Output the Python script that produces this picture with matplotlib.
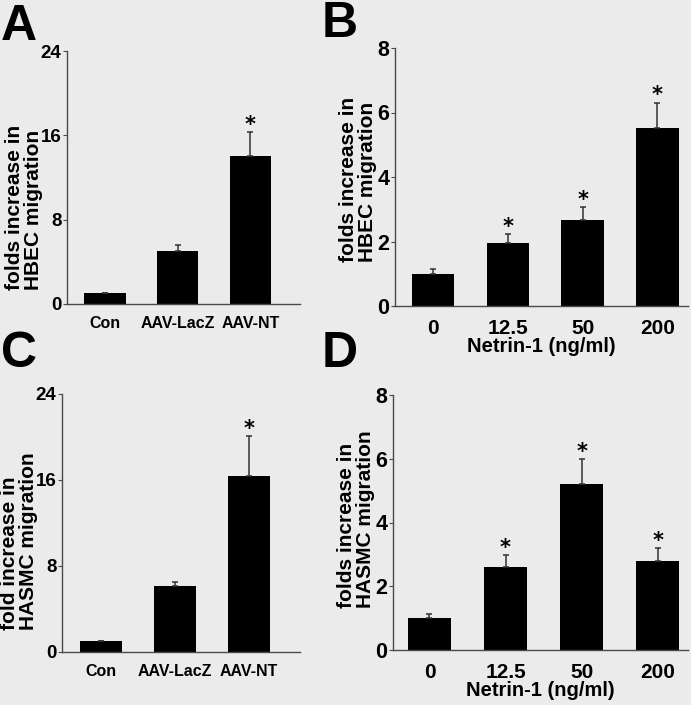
import matplotlib
matplotlib.use("Agg")
import matplotlib.pyplot as plt

W, H = 691, 705
BG = "#ebebeb"

# data
vec_groups = ["Con", "AAV-LacZ", "AAV-NT"]
netrin_doses = ["0", "12.5", "50", "200"]

hbec_vec = [1.0, 5.0, 14.0]
hbec_vec_err = [0.0, 0.55, 2.3]
hbec_vec_star = [False, False, True]

hbec_dose = [1.0, 1.94, 2.66, 5.52]
hbec_dose_err = [0.15, 0.30, 0.40, 0.79]
hbec_dose_star = [False, True, True, True]

hasmc_vec = [1.0, 6.1, 16.4]
hasmc_vec_err = [0.0, 0.4, 3.7]
hasmc_vec_star = [False, False, True]

hasmc_dose = [1.0, 2.6, 5.2, 2.8]
hasmc_dose_err = [0.13, 0.38, 0.80, 0.40]
hasmc_dose_star = [False, True, True, True]

SANS = ["Liberation Sans", "DejaVu Sans"]


def px_axes(fig, l, r, t, b):
    return fig.add_axes([l / W, 1 - b / H, (r - l) / W, (b - t) / H])


def panel(ax, cats, vals, errs, stars, ymax, yticks, xlim, xfs, yfs):
    x = list(range(len(cats)))
    ax.set_facecolor(BG)
    ax.bar(x, vals, width=0.57, color="black", zorder=2)
    ax.errorbar(x, vals, yerr=[[0] * len(vals), errs], fmt="none",
                ecolor="#333333", elinewidth=1.1, capsize=2.2, capthick=1.1, zorder=3)
    for xi, v, e, s in zip(x, vals, errs, stars):
        if s:
            ax.annotate("*", (xi, v + e), xytext=(0, -2), textcoords="offset points",
                        ha="center", va="bottom", fontsize=15, fontweight="bold")
    ax.set_ylim(0, ymax)
    ax.set_xlim(*xlim)
    ax.set_yticks(yticks)
    ax.set_xticks(x)
    ax.set_xticklabels(cats)
    for sp in ["top", "right"]:
        ax.spines[sp].set_visible(False)
    for sp in ["left", "bottom"]:
        ax.spines[sp].set_color("#4a4a4a")
        ax.spines[sp].set_linewidth(1.0)
    ax.tick_params(axis="x", length=0, pad=9)
    ax.tick_params(axis="y", length=3, width=0.8, color="#4a4a4a", pad=1)
    for lab in ax.get_xticklabels():
        lab.set_family(SANS); lab.set_fontweight("bold"); lab.set_fontsize(xfs)
    for lab in ax.get_yticklabels():
        lab.set_family(SANS); lab.set_fontweight("bold"); lab.set_fontsize(yfs)


fig = plt.figure(figsize=(W / 100, H / 100), dpi=100, facecolor=BG)

axA = px_axes(fig, 67, 300, 51, 304)
panel(axA, vec_groups, hbec_vec, hbec_vec_err, hbec_vec_star, 24, [0, 8, 16, 24],
      (-0.52, 2.68), 11.5, 13.5)

axB = px_axes(fig, 395, 688, 48, 306)
panel(axB, netrin_doses, hbec_dose, hbec_dose_err, hbec_dose_star, 8, [0, 2, 4, 6, 8],
      (-0.51, 3.41), 15, 15.5)
axB.set_xlabel("Netrin-1 (ng/ml)", family=SANS, fontweight="bold", fontsize=14.5, labelpad=0)

axC = px_axes(fig, 62, 300, 394, 652)
panel(axC, vec_groups, hasmc_vec, hasmc_vec_err, hasmc_vec_star, 24, [0, 8, 16, 24],
      (-0.53, 2.69), 11.5, 13.5)

axD = px_axes(fig, 393, 688, 395, 650)
panel(axD, netrin_doses, hasmc_dose, hasmc_dose_err, hasmc_dose_star, 8, [0, 2, 4, 6, 8],
      (-0.48, 3.4), 15, 15.5)
axD.set_xlabel("Netrin-1 (ng/ml)", family=SANS, fontweight="bold", fontsize=14.5, labelpad=0)

# y labels, two left-aligned lines
ylabels = [("folds increase in\nHBEC migration", 24, 290, 15),
           ("folds increase in\nHBEC migration", 358, 262, 15),
           ("fold increase in\nHASMC migration", 19, 630, 15),
           ("folds increase in\nHASMC migration", 356, 608, 15)]
for txt, xp, yp, fs in ylabels:
    fig.text(xp / W, 1 - yp / H, txt, rotation=90, ha="center", va="bottom",
             multialignment="left", family=SANS, fontweight="bold", fontsize=fs,
             linespacing=0.95)

# panel letters
for letter, xp, yp in [("A", 1, 40), ("B", 322, 37), ("C", 1, 367), ("D", 322, 367)]:
    fig.text(xp / W, 1 - yp / H, letter, ha="left", va="baseline", family=SANS,
             fontweight="bold", fontsize=36)

fig.savefig("out.png", dpi=100, facecolor=BG)
